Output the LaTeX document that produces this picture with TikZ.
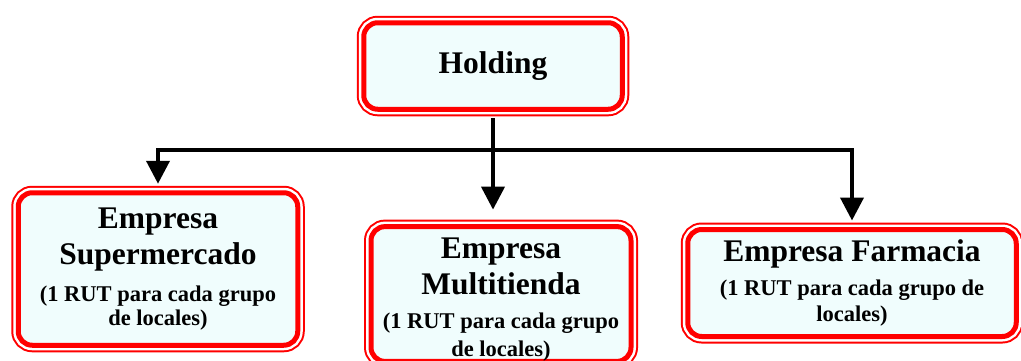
\documentclass[tikz,border=0pt]{standalone}
\usepackage{fontspec}
\setmainfont{Liberation Serif}
\usetikzlibrary{arrows.meta}
\definecolor{boxfill}{RGB}{240,253,253}
\newcommand{\bigtxt}{\fontsize{31.5}{36}\selectfont}
\newcommand{\smalltxt}{\fontsize{22.5}{24}\selectfont\lineskiplimit=-40pt}
\begin{document}
\begin{tikzpicture}[x=1pt,y=-1pt,
  unit/.style={draw=red,line width=5pt,fill=boxfill,rounded corners=14pt,
    preaction={draw=red,line width=14pt},
    preaction={draw=white,line width=10pt},
    inner sep=0pt,outer sep=7pt,align=center,font=\bfseries\smalltxt},
  link/.style={line width=4pt,-{Triangle[width=23pt,length=23pt]}}]
\useasboundingbox (0,0) rectangle (1021,360);
%
\node[unit,minimum width=258.5pt,minimum height=86.5pt] (hold) at (493,66)
  {\bigtxt Holding};
\node[unit,minimum width=279.5pt,minimum height=152.5pt] (super) at (158,269)
  {\bigtxt Empresa\\[12pt]\bigtxt Supermercado\\[13pt](1 RUT para cada grupo\\de locales)};
\node[unit,minimum width=260pt,minimum height=133pt] (multi) at (501,294)
  {\bigtxt\rule{0pt}{32pt}Empresa\\[12pt]\bigtxt Multitienda\\[10pt](1 RUT para cada grupo\\[4pt]de locales)};
\node[unit,minimum width=328.5pt,minimum height=107pt] (farm) at (852,283)
  {\bigtxt Empresa Farmacia\\[10pt](1 RUT para cada grupo de\\[2pt]locales)};
%
\coordinate (fork) at (493,150);
\draw[link,shorten <=2pt,shorten >=10pt] (hold.south) -- (hold.south |- multi.north);
\draw[link,shorten >=2pt] (fork) -| (super.north);
\draw[link,shorten >=2pt] (fork) -| (farm.north);
\end{tikzpicture}
\end{document}
